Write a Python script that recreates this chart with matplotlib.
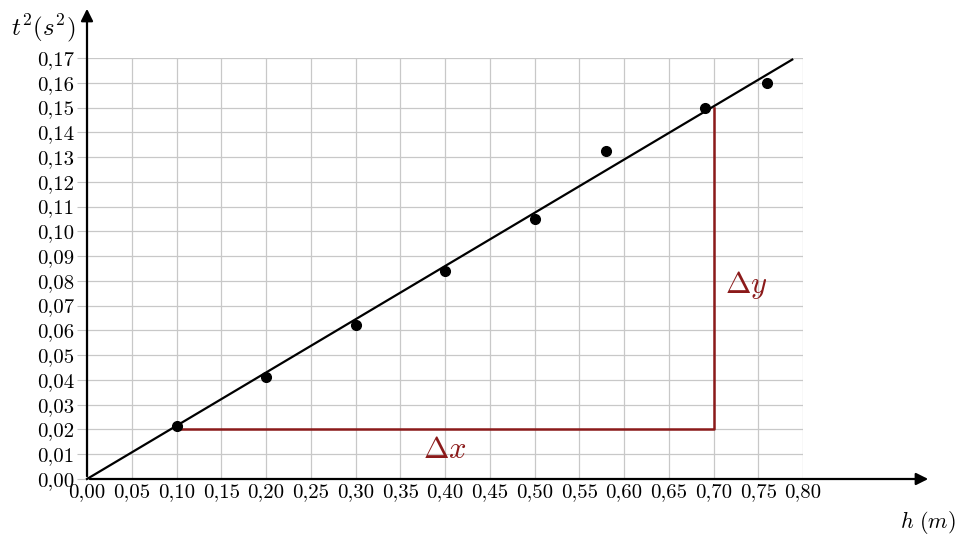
import numpy as np
import matplotlib
matplotlib.use("Agg")
import matplotlib.pyplot as plt

plt.rcParams['font.family'] = ['cmr10', 'DejaVu Serif']
plt.rcParams['mathtext.fontset'] = 'cm'
plt.rcParams['axes.unicode_minus'] = False

# measured points
h = [0.10, 0.20, 0.30, 0.40, 0.50, 0.58, 0.69, 0.76]
t2 = [0.0215, 0.041, 0.062, 0.084, 0.105, 0.1325, 0.150, 0.160]

x_ticks = [i * 0.05 for i in range(17)]
y_ticks = [i * 0.01 for i in range(18)]

# slope triangle
tri_x = [0.10, 0.70, 0.70]
tri_y = [0.02, 0.02, 0.15]

red = '#8b1a1a'

fig = plt.figure(figsize=(9.58, 5.37), dpi=100)
ax = fig.add_axes([87 / 958, 58 / 537, 716 / 958, 421 / 537])
ax.set_xlim(0, 0.80)
ax.set_ylim(0, 0.17)
for s in ax.spines.values():
    s.set_visible(False)

ax.set_xticks(x_ticks)
ax.set_yticks(y_ticks)
ax.set_xticklabels([f"{v:.2f}".replace('.', ',') for v in x_ticks], fontsize=15)
ax.set_yticklabels([f"{v:.2f}".replace('.', ',') for v in y_ticks], fontsize=15)
ax.tick_params(axis='x', length=0, pad=3)
ax.tick_params(axis='y', length=7, width=0.8, color='#c4c4c4', pad=2)
ax.grid(True, color='#c8c8c8', linewidth=0.9)
ax.set_axisbelow(True)

# line through origin (least squares)
x = np.array(h)
y = np.array(t2)
slope = np.sum(x * y) / np.sum(x * x)
xl = np.array([0, 0.788])
ax.plot(xl, slope * xl, color='black', lw=1.6, zorder=3, clip_on=False)

ax.plot(tri_x, tri_y, color=red, lw=1.8, zorder=2)
ax.plot(h, t2, 'o', color='black', ms=7, zorder=4, clip_on=False)

ax.text(0.40, 0.0115, r'$\Delta x$', color=red, fontsize=22, ha='center', va='center')
ax.text(0.737, 0.0785, r'$\Delta y$', color=red, fontsize=22, ha='center', va='center')

# axes with arrows
ax.annotate('', xy=(0.943, 0), xytext=(0, 0), xycoords='data',
            arrowprops=dict(arrowstyle='-|>', color='black', lw=1.6, mutation_scale=18),
            annotation_clip=False, zorder=5)
ax.annotate('', xy=(0, 0.191), xytext=(0, 0), xycoords='data',
            arrowprops=dict(arrowstyle='-|>', color='black', lw=1.6, mutation_scale=18),
            annotation_clip=False, zorder=5)

fig.text(43 / 958, 1 - 28 / 537, r'$t^2(s^2)$', fontsize=18, ha='center', va='center')
fig.text(928 / 958, 1 - 523 / 537, r'$h\ (m)$', fontsize=16, ha='center', va='center')

fig.savefig('out.png', dpi=100)
